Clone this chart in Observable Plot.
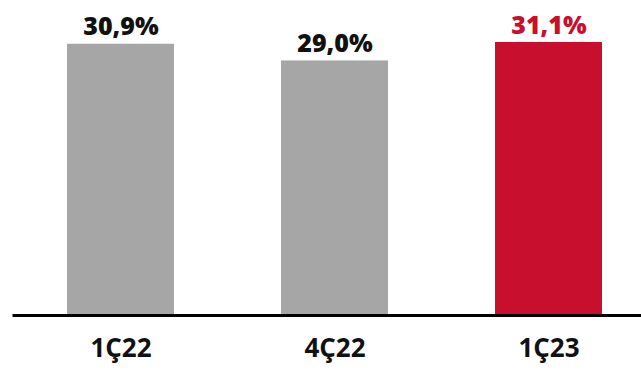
<!DOCTYPE html>
<html><head><meta charset="utf-8">
<script src="https://cdn.jsdelivr.net/npm/d3@7"></script>
<script src="https://cdn.jsdelivr.net/npm/@observablehq/plot@0.6"></script>
<style>body{margin:0;background:#fff}</style>
</head><body><div id="chart"></div>
<script>
const categories = ["1Ç22", "4Ç22", "1Ç23"];
const values = [30.9, 29.0, 31.1];
const labels = ["30,9%", "29,0%", "31,1%"];
const colors = ["#a6a6a6", "#a6a6a6", "#c8102e"];
const labelColors = ["#111111", "#111111", "#c8102e"];

const data = categories.map((c, i) => ({cat: c, v: values[i], label: labels[i], color: colors[i], lc: labelColors[i]}));

const chart = Plot.plot({
  width: 641, height: 370,
  marginLeft: 44.5, marginRight: 17.5, marginTop: 42, marginBottom: 55,
  x: {domain: categories, padding: 0.5, paddingOuter: 0.1},
  y: {domain: [0, 31.1], axis: null},
  style: {background: "#fff"},
  marks: [
    Plot.barY(data, {x: "cat", y: "v", fill: d => d.color}),
    Plot.ruleY([0], {stroke: "#000", strokeWidth: 3, insetLeft: -32, insetRight: -18}),
    Plot.text(data, {x: "cat", y: "v", text: "label", fill: d => d.lc, lineAnchor: "bottom", dy: -9,
      fontSize: 25, fontWeight: 800, fontFamily: "'Open Sans', sans-serif"}),
    Plot.axisX({tickSize: 0, tickPadding: 23, fontSize: 26, fontWeight: "bold",
      fontFamily: "'Open Sans', sans-serif", fill: "#111", label: null})
  ]
});
chart.querySelectorAll("text").forEach(t => t.style.fill = t.getAttribute("fill") || "");
document.getElementById("chart").append(chart);
</script>
</body></html>
